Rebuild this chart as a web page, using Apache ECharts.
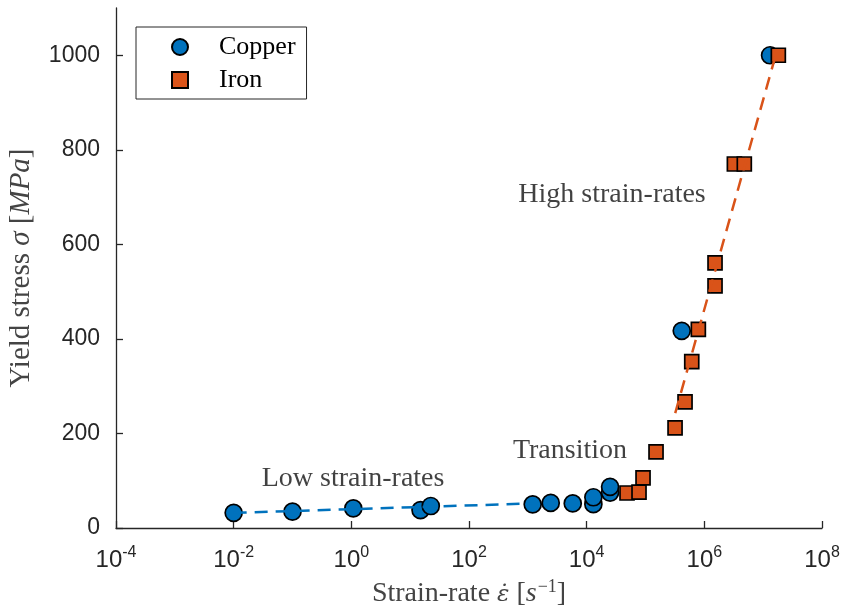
<!DOCTYPE html>
<html>
<head>
<meta charset="utf-8">
<script src="https://cdn.jsdelivr.net/npm/echarts@6/dist/echarts.min.js"></script>
<style>
  html, body { margin: 0; padding: 0; background: #ffffff; }
  #chart { width: 849px; height: 610px; }
</style>
</head>
<body>
<div id="chart"></div>
<script>
// Yield stress of copper and iron against strain rate (log scale)
const copperRate   = [0.01, 0.1, 1.08, 15, 22.4, 1210, 2450, 5800, 13000, 13000, 25000, 25000, 413000, 13100000];
const copperStress = [32, 34.5, 41.5, 38, 46.5, 50, 53, 52, 50.5, 65, 75, 87, 417, 1000];

const ironRate   = [48500, 77600, 90800, 151000, 318000, 470000, 611000, 791000, 1520000, 1520000, 3240000, 4780000, 18100000];
const ironStress = [74, 76, 106, 161, 212, 267, 352, 420, 512, 561, 770, 770, 1000];

// Dashed trend lines for the two regimes
const lowFitRate    = [0.01, 1200];
const lowFitStress  = [32, 52];
const highFitRate   = [320000, 16300000];
const highFitStress = [243, 1000];

// Region annotations, placed in data space
const noteText   = ['Low strain-rates', 'Transition', 'High strain-rates'];
const noteRate   = [1.07, 5200, 27000];
const noteStress = [104, 163, 706];

const xTicks = [1e-4, 1e-2, 1e0, 1e2, 1e4, 1e6, 1e8];
const yTicks = [0, 200, 400, 600, 800, 1000];

const BLUE = '#0072BD';
const ORANGE = '#D95319';
const INK = '#262626';
const TITLE = '#444444';
const SERIF = '"Liberation Serif", "DejaVu Serif", serif';
const SANS = '"Liberation Sans", Arial, sans-serif';

const pairs = (xs, ys) => xs.map((x, i) => [x, ys[i]]);

const chart = echarts.init(document.getElementById('chart'), null, { renderer: 'canvas' });

chart.setOption({
  animation: false,
  backgroundColor: '#ffffff',
  grid: { left: 116, right: 27, top: 8, bottom: 82, containLabel: false, outerBoundsMode: 'none' },
  legend: {
    left: 136, top: 27,
    orient: 'vertical',
    padding: [7, 11, 6, 35],
    itemGap: 7,
    itemWidth: 16,
    itemHeight: 16,
    borderColor: INK, borderWidth: 1, borderRadius: 0,
    backgroundColor: '#ffffff',
    formatter: name => '{t|' + name + '}',
    textStyle: {
      rich: { t: { fontFamily: SERIF, fontSize: 26, color: '#000000', padding: [0, 0, 0, 26] } }
    },
    data: [
      { name: 'Copper', icon: 'circle' },
      { name: 'Iron', icon: 'rect' }
    ]
  },
  xAxis: {
    type: 'log',
    logBase: 10,
    min: 1e-4, max: 1e8,
    name: '{n|Strain-rate }{e|ε̇}{n| [}{i|s}{sup|−1}{n|]}',
    nameLocation: 'middle',
    nameGap: 50,
    nameTextStyle: {
      rich: {
        n: { fontFamily: SERIF, fontSize: 28, color: TITLE, verticalAlign: 'bottom' },
        i: { fontFamily: SERIF, fontSize: 28, fontStyle: 'italic', color: TITLE, verticalAlign: 'bottom' },
        e: { fontFamily: '"DejaVu Serif", serif', fontSize: 23, fontStyle: 'italic', color: TITLE, verticalAlign: 'bottom', padding: [0, 0, 1, 0] },
        sup: { fontFamily: SERIF, fontSize: 18, color: TITLE, verticalAlign: 'bottom', padding: [0, 0, 12, 1] }
      }
    },
    axisLine: { show: true, onZero: false, lineStyle: { color: INK, width: 1.3 } },
    axisTick: { show: true, inside: true, length: 7, customValues: xTicks, lineStyle: { color: INK, width: 1.3 } },
    minorTick: { show: false },
    splitLine: { show: false },
    axisLabel: {
      customValues: xTicks,
      margin: 17,
      formatter: v => '{b|10}{s|' + Math.round(Math.log10(v)) + '}',
      rich: {
        b: { fontFamily: SANS, fontSize: 24, color: INK, verticalAlign: 'bottom' },
        s: { fontFamily: SANS, fontSize: 16, color: INK, verticalAlign: 'bottom', padding: [0, 0, 11, 0] }
      }
    }
  },
  yAxis: {
    type: 'value',
    min: 0, max: 1100,
    name: '{n|Yield stress }{i|σ}{n| [}{i|MPa}{n|]}',
    nameLocation: 'middle',
    nameGap: 80,
    nameTextStyle: {
      rich: {
        n: { fontFamily: SERIF, fontSize: 29, color: TITLE },
        i: { fontFamily: SERIF, fontSize: 29, fontStyle: 'italic', color: TITLE }
      }
    },
    axisLine: { show: true, onZero: false, lineStyle: { color: INK, width: 1.3 } },
    axisTick: { show: true, inside: true, length: 7, customValues: yTicks, lineStyle: { color: INK, width: 1.3 } },
    splitLine: { show: false },
    axisLabel: {
      customValues: yTicks,
      margin: 16,
      formatter: v => String(v),
      fontFamily: SANS, fontSize: 23, color: INK
    }
  },
  series: [
    {
      name: 'Copper',
      type: 'scatter',
      symbol: 'circle',
      symbolSize: 17,
      itemStyle: { color: BLUE, borderColor: '#000000', borderWidth: 1.7, opacity: 1 },
      data: pairs(copperRate, copperStress)
    },
    {
      name: 'Iron',
      type: 'scatter',
      symbol: 'rect',
      symbolSize: 14,
      itemStyle: { color: ORANGE, borderColor: '#000000', borderWidth: 1.7, opacity: 1 },
      data: pairs(ironRate, ironStress)
    },
    {
      name: 'Low fit',
      type: 'line',
      showSymbol: false,
      symbol: 'none',
      lineStyle: { color: BLUE, width: 2.5, type: [13, 8] },
      data: pairs(lowFitRate, lowFitStress)
    },
    {
      name: 'High fit',
      type: 'line',
      showSymbol: false,
      symbol: 'none',
      lineStyle: { color: ORANGE, width: 2.5, type: [13, 8] },
      data: pairs(highFitRate, highFitStress)
    },
    {
      name: 'Notes',
      type: 'scatter',
      symbolSize: 0,
      silent: true,
      label: {
        show: true,
        position: 'inside',
        formatter: p => p.name,
        fontFamily: SERIF, fontSize: 28, color: '#111111'
      },
      data: noteText.map((t, i) => ({ name: t, value: [noteRate[i], noteStress[i]] }))
    }
  ]
});
</script>
</body>
</html>
